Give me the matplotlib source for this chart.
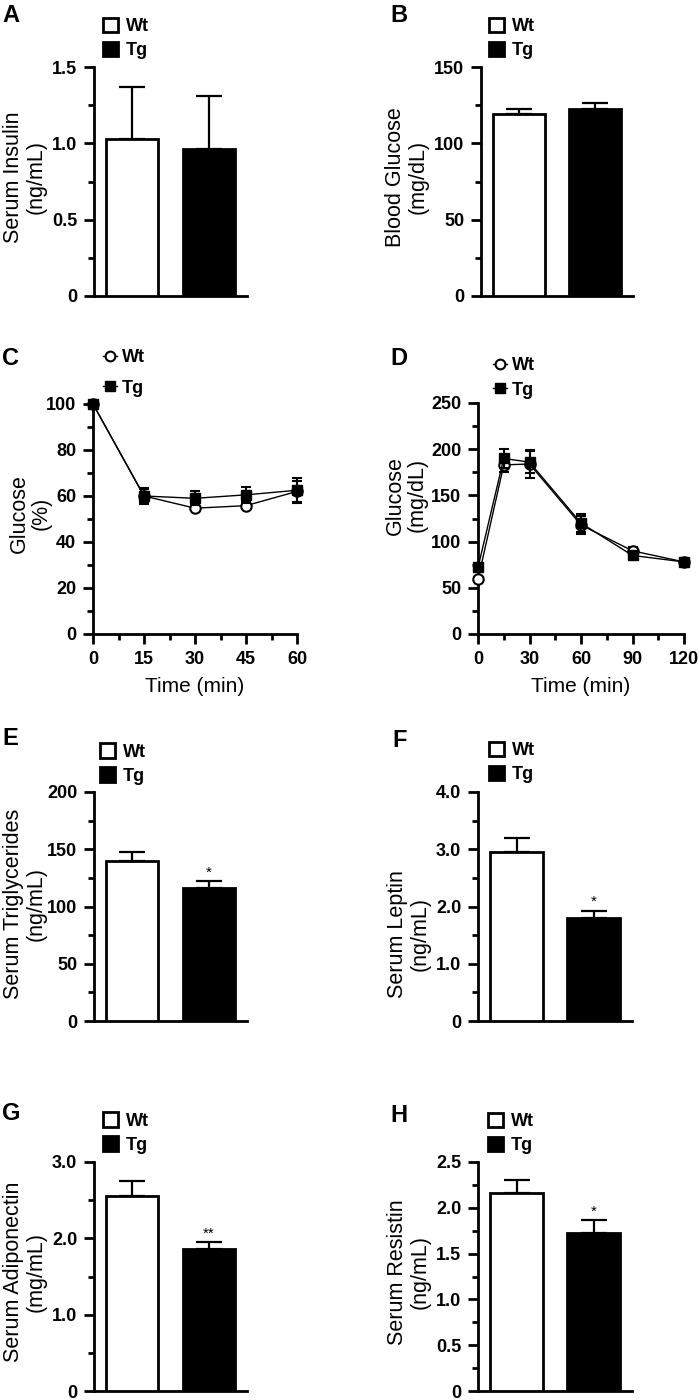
import matplotlib
matplotlib.use('Agg')
import matplotlib.pyplot as plt
from matplotlib.patches import Patch
from matplotlib.lines import Line2D
from matplotlib.ticker import MultipleLocator, FuncFormatter

plt.rcParams['font.family'] = ['Liberation Sans', 'DejaVu Sans']
plt.rcParams['font.weight'] = 'bold'

groups = ['Wt', 'Tg']

# bar panels: means and SEM (Wt, Tg)
insulin = [1.03, 0.96]
insulin_err = [0.34, 0.35]
blood_glucose = [119, 122.5]
blood_glucose_err = [3.5, 4]
triglycerides = [140, 116]
triglycerides_err = [8, 6]
leptin = [2.95, 1.80]
leptin_err = [0.25, 0.13]
adiponectin = [2.55, 1.86]
adiponectin_err = [0.20, 0.09]
resistin = [2.16, 1.72]
resistin_err = [0.14, 0.15]

# ITT (% of baseline)
itt_time = [0, 15, 30, 45, 60]
itt_wt = [100, 60, 54.7, 55.8, 62]
itt_wt_err = [0, 3, 1, 1.5, 4.5]
itt_tg = [100, 60, 59, 60.5, 62.5]
itt_tg_err = [0, 3.5, 3, 3.5, 5.5]

# GTT (mg/dL)
gtt_time = [0, 15, 30, 60, 90, 120]
gtt_wt = [59, 183, 184, 118, 90, 78]
gtt_wt_err = [3, 8, 15, 10, 4, 2]
gtt_tg = [72, 190, 186, 120, 85, 78]
gtt_tg_err = [3, 10, 12, 10, 3, 2]

W, H = 700, 1400
fig = plt.figure(figsize=(7, 14), dpi=100)


def px_axes(l, t, r, b):
    return fig.add_axes([l / W, 1 - b / H, (r - l) / W, (b - t) / H])


def dec(v, pos):
    return '0' if abs(v) < 1e-9 else f'{v:.1f}'


def integer(v, pos):
    return f'{v:.0f}'


def style(ax, ymax, major, minor, fmt, label, lab_px, lab_y):
    for s in ['top', 'right']:
        ax.spines[s].set_visible(False)
    for s in ['left', 'bottom']:
        ax.spines[s].set_linewidth(2)
    ax.set_ylim(0, ymax)
    ax.yaxis.set_major_locator(MultipleLocator(major))
    ax.yaxis.set_minor_locator(MultipleLocator(minor))
    ax.yaxis.set_major_formatter(FuncFormatter(fmt))
    ax.tick_params(which='major', length=7, width=2, pad=5, labelsize=13)
    ax.tick_params(which='minor', length=4.5, width=2)
    ax.set_ylabel(label, fontsize=15.5, fontweight='normal', linespacing=1.1)
    bb = ax.get_position()
    x_ax = (lab_px / W - bb.x0) / bb.width
    ax.yaxis.set_label_coords(x_ax, lab_y)


def bar_panel(box, vals, errs, ymax, major, minor, fmt, label, lab_px, lab_y, star=None):
    ax = px_axes(*box)
    x = [0, 1]
    ax.bar(x, vals, width=0.68, color=['white', 'black'], edgecolor='black',
           linewidth=2, zorder=3)
    ax.errorbar(x, vals, yerr=[[0, 0], errs], fmt='none', ecolor='black',
                elinewidth=1.6, capsize=9.5, capthick=1.6, zorder=2)
    ax.set_xlim(-0.5, 1.5)
    ax.set_xticks([])
    style(ax, ymax, major, minor, fmt, label, lab_px, lab_y)
    if star:
        ax.annotate(star, (1, vals[1] + errs[1]), xytext=(0, 1),
                    textcoords='offset points', ha='center', va='bottom',
                    fontsize=11, fontweight='normal')
    return ax


def bar_legend(ax, left_px, mid_px):
    handles = [Patch(facecolor='white', edgecolor='black', linewidth=2),
               Patch(facecolor='black', edgecolor='black', linewidth=2)]
    ax.legend(handles, groups, loc='center left',
              bbox_to_anchor=(left_px / W, 1 - mid_px / H),
              bbox_transform=fig.transFigure, frameon=False, fontsize=13,
              handlelength=0.85, handleheight=0.85, handletextpad=0.4,
              labelspacing=0.38, borderpad=0, borderaxespad=0)


def line_legend(ax, left_px, mid_px, spacing):
    handles = [Line2D([], [], color='black', lw=1, marker='o', mfc='white',
                      mec='black', ms=7, mew=1.5),
               Line2D([], [], color='black', lw=1, marker='s', ms=6.5)]
    ax.legend(handles, groups, loc='center left',
              bbox_to_anchor=(left_px / W, 1 - mid_px / H),
              bbox_transform=fig.transFigure, frameon=False, fontsize=13,
              handlelength=0.8, handletextpad=0.25,
              labelspacing=spacing, borderpad=0, borderaxespad=0)


def line_panel(box, t, wt, wt_err, tg, tg_err, xmax, xmajor, ymax, ymajor, yminor,
               label, lab_px, lab_y):
    ax = px_axes(*box)
    c1 = ax.errorbar(t, wt, yerr=wt_err, fmt='-o', color='black', mfc='white',
                     mec='black', ms=7.5, mew=1.5, lw=1, elinewidth=1.5,
                     capsize=3.5, capthick=1.5, zorder=3)
    c2 = ax.errorbar(t, tg, yerr=tg_err, fmt='-s', color='black', ms=7, lw=1,
                     elinewidth=1.5, capsize=3.5, capthick=1.5, zorder=4)
    for c in (c1, c2):
        for art in c.get_children():
            art.set_clip_on(False)
    ax.set_xlim(0, xmax)
    ax.xaxis.set_major_locator(MultipleLocator(xmajor))
    ax.xaxis.set_minor_locator(MultipleLocator(xmajor / 2))
    ax.xaxis.set_major_formatter(FuncFormatter(integer))
    style(ax, ymax, ymajor, yminor, integer, label, lab_px, lab_y)
    ax.set_xlabel('Time (min)', fontsize=15, fontweight='normal', labelpad=7)
    return ax


# A
axA = bar_panel((94, 67, 247, 296), insulin, insulin_err, 1.5, 0.5, 0.25, dec,
                'Serum Insulin\n(ng/mL)', 47, 0.52)
bar_legend(axA, 103, 38.5)
# B
axB = bar_panel((481, 67, 633, 296), blood_glucose, blood_glucose_err, 150, 50, 25,
                integer, 'Blood Glucose\n(mg/dL)', 429, 0.52)
bar_legend(axB, 489, 38.5)
# C
axC = line_panel((93, 404, 297, 634), itt_time, itt_wt, itt_wt_err, itt_tg, itt_tg_err,
                 60, 15, 100, 20, 10, 'Glucose\n(%)', 52, 0.525)
line_legend(axC, 103, 373, 0.75)
# D
axD = line_panel((478, 403, 684, 634), gtt_time, gtt_wt, gtt_wt_err, gtt_tg, gtt_tg_err,
                 120, 30, 250, 50, 25, 'Glucose\n(mg/dL)', 428, 0.6)
line_legend(axD, 493, 378, 0.42)
# E
axE = bar_panel((94, 792, 247, 1021), triglycerides, triglycerides_err, 200, 50, 25,
                integer, 'Serum Triglycerides\n(ng/mL)', 47, 0.51, star='*')
bar_legend(axE, 100, 764)
# F
axF = bar_panel((478, 792, 632, 1021), leptin, leptin_err, 4.0, 1.0, 0.5, dec,
                'Serum Leptin\n(ng/mL)', 431, 0.38, star='*')
bar_legend(axF, 489, 762.5)
# G
axG = bar_panel((94, 1162, 247, 1391), adiponectin, adiponectin_err, 3.0, 1.0, 0.5, dec,
                'Serum Adiponectin\n(mg/mL)', 47, 0.52, star='**')
bar_legend(axG, 103, 1133)
# H
axH = bar_panel((478, 1162, 632, 1391), resistin, resistin_err, 2.5, 0.5, 0.25, dec,
                'Serum Resistin\n(ng/mL)', 431, 0.52, star='*')
bar_legend(axH, 488, 1133.5)

for letter, (lx, ly) in zip('ABCDEFGH', [(2, 4), (390, 4), (2, 347), (390, 347),
                                         (2, 727), (392, 729), (2, 1102), (390, 1104)]):
    fig.text(lx / W, 1 - ly / H, letter, fontsize=17, fontweight='bold',
             ha='left', va='top')

fig.savefig('out.png', dpi=100)
